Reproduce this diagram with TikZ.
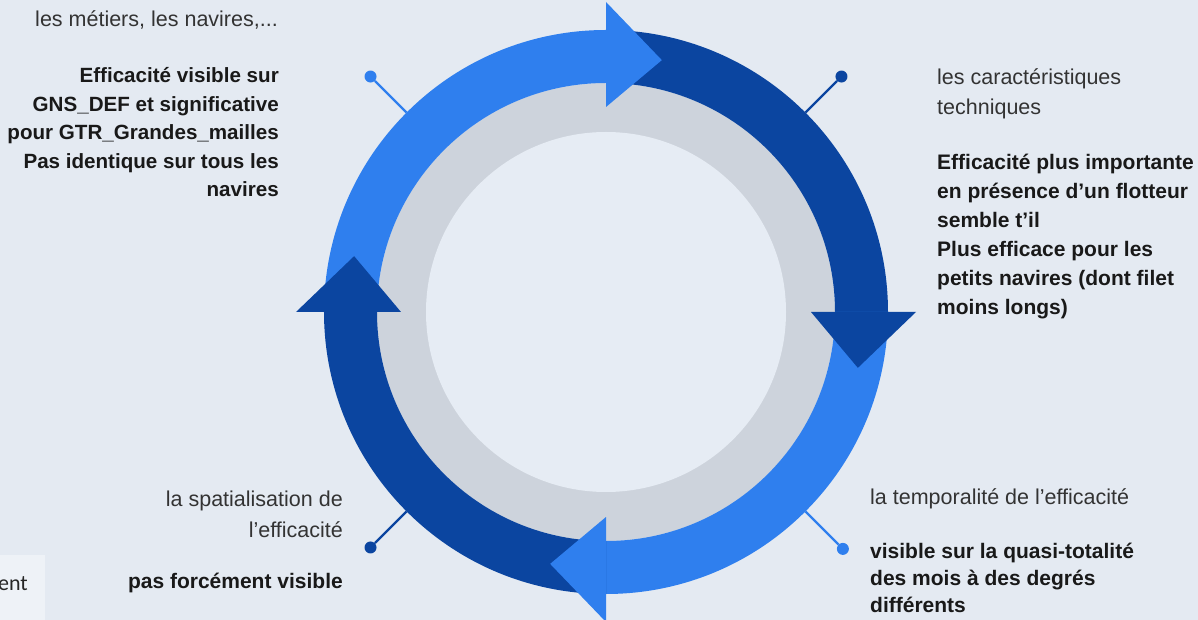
\documentclass[tikz,border=0pt]{standalone}
\usepackage{fontspec}
\setmainfont{Liberation Sans}
\newfontfamily\calibfont{Carlito}
\usetikzlibrary{positioning,calc}
\definecolor{bgc}{HTML}{E4EAF2}
\definecolor{boxc}{HTML}{EEF2F7}
\definecolor{lightb}{HTML}{2F7FEE}
\definecolor{darkb}{HTML}{0B45A0}
\definecolor{ringg}{HTML}{CDD3DC}
\definecolor{innerc}{HTML}{E6ECF4}
\definecolor{txtg}{HTML}{333333}
\tikzset{
  pinline/.style={line width=2.2pt},
  dot/.style={circle,inner sep=0pt,minimum size=12pt},
  lbl/.style={inner sep=0pt,text=txtg,font=\fontsize{21.5}{30}\selectfont},
  bld/.style={inner sep=0pt,text=black!90,font=\fontsize{21}{29}\selectfont\bfseries},
}
\newcommand{\cyclepart}[3]{\fill[#3] (#1:282) arc[start angle=#1,end angle=#2,radius=282] -- (#2:229) arc[start angle=#2,end angle=#1,radius=229] -- cycle;}
\newcommand{\cyclehead}[2]{\fill[#2] (#1:310) -- ({#1-12.5}:258) -- (#1:205) -- cycle;}

\begin{document}
\begin{tikzpicture}[x=1pt,y=1pt]
        \fill[bgc] (-606,-308) rectangle (592,312);
        \useasboundingbox (-606,-308) rectangle (592,312);
        \fill[boxc] (-606,-243) rectangle (-561,-308);
        \node[lbl,anchor=base east,font=\calibfont\fontsize{22}{26}\selectfont,text=black!85] (cut) at (-578,-278) {ent};

        \fill[ringg] (0,0) circle (229);
        \fill[innerc] (0,0) circle (180);

        \cyclepart{180}{90}{lightb}
        \cyclepart{90}{0}{darkb}
        \cyclepart{0}{-90}{lightb}
        \cyclepart{-90}{-180}{darkb}
        \cyclehead{90}{lightb}
        \cyclehead{0}{darkb}
        \cyclehead{-90}{lightb}
        \cyclehead{180}{darkb}

        \coordinate (e1) at (135:282);
        \coordinate (e2) at (45:282);
        \coordinate (e3) at (-45:282);
        \coordinate (e4) at (-135:282);
        \node[dot,fill=lightb] (d1) at (135:333) {};
        \node[dot,fill=darkb] (d2) at (45:333) {};
        \node[dot,fill=lightb] (d3) at (-45:335) {};
        \node[dot,fill=darkb] (d4) at (-135:333) {};
        \draw[pinline,lightb] (e1) -- (d1);
        \draw[pinline,darkb] (e2) -- (d2);
        \draw[pinline,lightb] (e3) -- (d3);
        \draw[pinline,darkb] (e4) -- (d4);

        \node[lbl,anchor=base east,align=right] (t1) at (-328,285) {les métiers, les navires,...};
        \node[bld,anchor=base east,align=right,font=\fontsize{20.6}{28.5}\selectfont\bfseries] (b1) at (-327,115) {Efficacité visible sur\\GNS\_DEF et significative\\pour GTR\_Grandes\_mailles\\Pas identique sur tous les\\navires};

        \node[lbl,anchor=base west,align=left] (t2) at (331,197) {les caractéristiques\\techniques};
        \node[bld,anchor=base west,align=left] (b2) at (331,-3) {Efficacité plus importante\\en présence d’un flotteur\\semble t’il\\Plus efficace pour les\\petits navires (dont filet\\moins longs)};

        \node[lbl,anchor=base west,align=left] (t3) at (264,-193) {la temporalité de l’efficacité};
        \node[bld,anchor=base west,align=left,font=\fontsize{21}{27}\selectfont\bfseries] (b3) at (264,-300) {visible sur la quasi-totalité\\des mois à des degrés\\différents};

        \node[lbl,anchor=base east,align=right,font=\fontsize{21.5}{31}\selectfont] (t4) at (-263,-225) {la spatialisation de\\l’efficacité};
        \node[bld,anchor=base east,align=right] (b4) at (-263,-276) {pas forcément visible};
\end{tikzpicture}
\end{document}
